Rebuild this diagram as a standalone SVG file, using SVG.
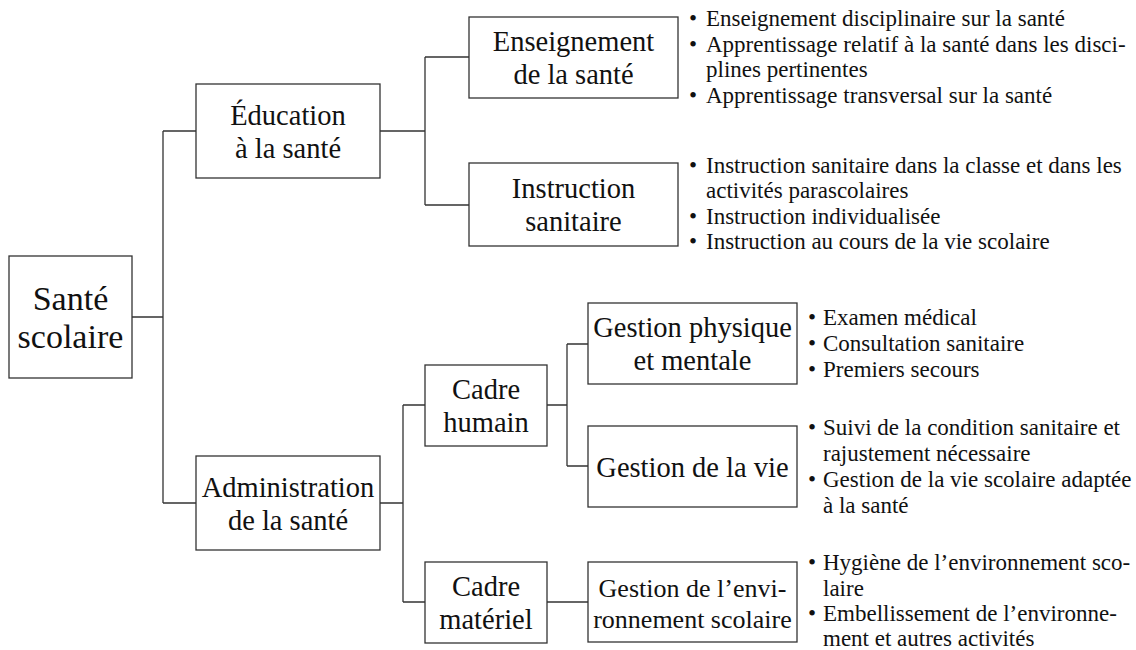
<svg xmlns="http://www.w3.org/2000/svg" width="1136" height="650" viewBox="0 0 1136 650" font-family="Liberation Serif">
<rect width="1136" height="650" fill="#ffffff"/>
<g id="connectors" stroke="#333333" stroke-width="1.3" fill="none">
  <path d="M132 317H163M163 131V503M163 131H196M163 503H196"/>
  <path d="M380 131H425M425 57V205M425 57H469M425 205H469"/>
  <path d="M380 503H403M403 405V602M403 405H425M403 602H425"/>
  <path d="M547 405H567M567 344V466M567 344H588M567 466H588"/>
  <path d="M547 602H588"/>
</g>
<g id="nodes" fill="#ffffff" stroke="#333333" stroke-width="1.3">
  <rect id="box-sante" x="9" y="256" width="123" height="122"/>
  <rect id="box-education" x="196" y="84" width="184" height="94"/>
  <rect id="box-administration" x="196" y="456" width="184" height="94"/>
  <rect id="box-enseignement" x="469" y="17" width="209" height="81"/>
  <rect id="box-instruction" x="469" y="163" width="209" height="83"/>
  <rect id="box-cadre-humain" x="425" y="365" width="122" height="81"/>
  <rect id="box-cadre-materiel" x="425" y="562" width="122" height="81"/>
  <rect id="box-gestion-physique" x="588" y="303" width="209" height="81"/>
  <rect id="box-gestion-vie" x="588" y="426" width="209" height="81"/>
  <rect id="box-gestion-env" x="588" y="562" width="209" height="80"/>
</g>
<g id="sante-scolaire" font-family="Liberation Serif" font-size="34" fill="#111111">
  <text x="32.7" y="310">Santé</text>
  <text x="17.6" y="348">scolaire</text>
</g>
<g id="education" font-family="Liberation Serif" font-size="28.5" fill="#111111">
  <text x="230.2" y="124.5">Éducation</text>
  <text x="235" y="157.5">à la santé</text>
</g>
<g id="administration" font-family="Liberation Serif" font-size="28.5" fill="#111111">
  <text x="201.7" y="496.5">Administration</text>
  <text x="227.9" y="529.5">de la santé</text>
</g>
<g id="enseignement" font-family="Liberation Serif" font-size="28.5" fill="#111111">
  <text x="492.8" y="51">Enseignement</text>
  <text x="513.4" y="84">de la santé</text>
</g>
<g id="instruction" font-family="Liberation Serif" font-size="28.5" fill="#111111">
  <text x="511.8" y="198">Instruction</text>
  <text x="525.2" y="231">sanitaire</text>
</g>
<g id="cadre-humain" font-family="Liberation Serif" font-size="28.5" fill="#111111">
  <text x="452" y="399">Cadre</text>
  <text x="443.3" y="432">humain</text>
</g>
<g id="cadre-materiel" font-family="Liberation Serif" font-size="28.5" fill="#111111">
  <text x="452" y="596">Cadre</text>
  <text x="439.3" y="629">matériel</text>
</g>
<g id="gestion-physique" font-family="Liberation Serif" font-size="28.5" fill="#111111">
  <text x="593.2" y="337">Gestion physique</text>
  <text x="633.5" y="370">et mentale</text>
</g>
<g id="gestion-vie" font-family="Liberation Serif" font-size="28.5" fill="#111111">
  <text x="596.3" y="476.5">Gestion de la vie</text>
</g>
<g id="gestion-env" font-family="Liberation Serif" font-size="26" fill="#111111">
  <text x="598.6" y="597">Gestion de l’envi-</text>
  <text x="593.2" y="628">ronnement scolaire</text>
</g>
<g id="list-enseignement" font-family="Liberation Serif" font-size="23" fill="#111111">
  <text x="689" y="26">•</text><text x="706" y="26">Enseignement disciplinaire sur la santé</text>
  <text x="689" y="51.5">•</text><text x="706" y="51.5">Apprentissage relatif à la santé dans les disci-</text>
  <text x="706" y="77">plines pertinentes</text>
  <text x="689" y="102.5">•</text><text x="706" y="102.5">Apprentissage transversal sur la santé</text>
</g>
<g id="list-instruction" font-family="Liberation Serif" font-size="23" fill="#111111">
  <text x="689" y="172.5">•</text><text x="706" y="172.5">Instruction sanitaire dans la classe et dans les</text>
  <text x="706" y="198">activités parascolaires</text>
  <text x="689" y="223.5">•</text><text x="706" y="223.5">Instruction individualisée</text>
  <text x="689" y="249">•</text><text x="706" y="249">Instruction au cours de la vie scolaire</text>
</g>
<g id="list-physique" font-family="Liberation Serif" font-size="23" fill="#111111">
  <text x="808" y="325">•</text><text x="823" y="325">Examen médical</text>
  <text x="808" y="351">•</text><text x="823" y="351">Consultation sanitaire</text>
  <text x="808" y="377">•</text><text x="823" y="377">Premiers secours</text>
</g>
<g id="list-vie" font-family="Liberation Serif" font-size="23" fill="#111111">
  <text x="808" y="435">•</text><text x="823" y="435">Suivi de la condition sanitaire et</text>
  <text x="823" y="461">rajustement nécessaire</text>
  <text x="808" y="487">•</text><text x="823" y="487">Gestion de la vie scolaire adaptée</text>
  <text x="823" y="513">à la santé</text>
</g>
<g id="list-env" font-family="Liberation Serif" font-size="23" fill="#111111">
  <text x="808" y="570">•</text><text x="823" y="570">Hygiène de l’environnement sco-</text>
  <text x="823" y="595.5">laire</text>
  <text x="808" y="621">•</text><text x="823" y="621">Embellissement de l’environne-</text>
  <text x="823" y="646">ment et autres activités</text>
</g>
</svg>
